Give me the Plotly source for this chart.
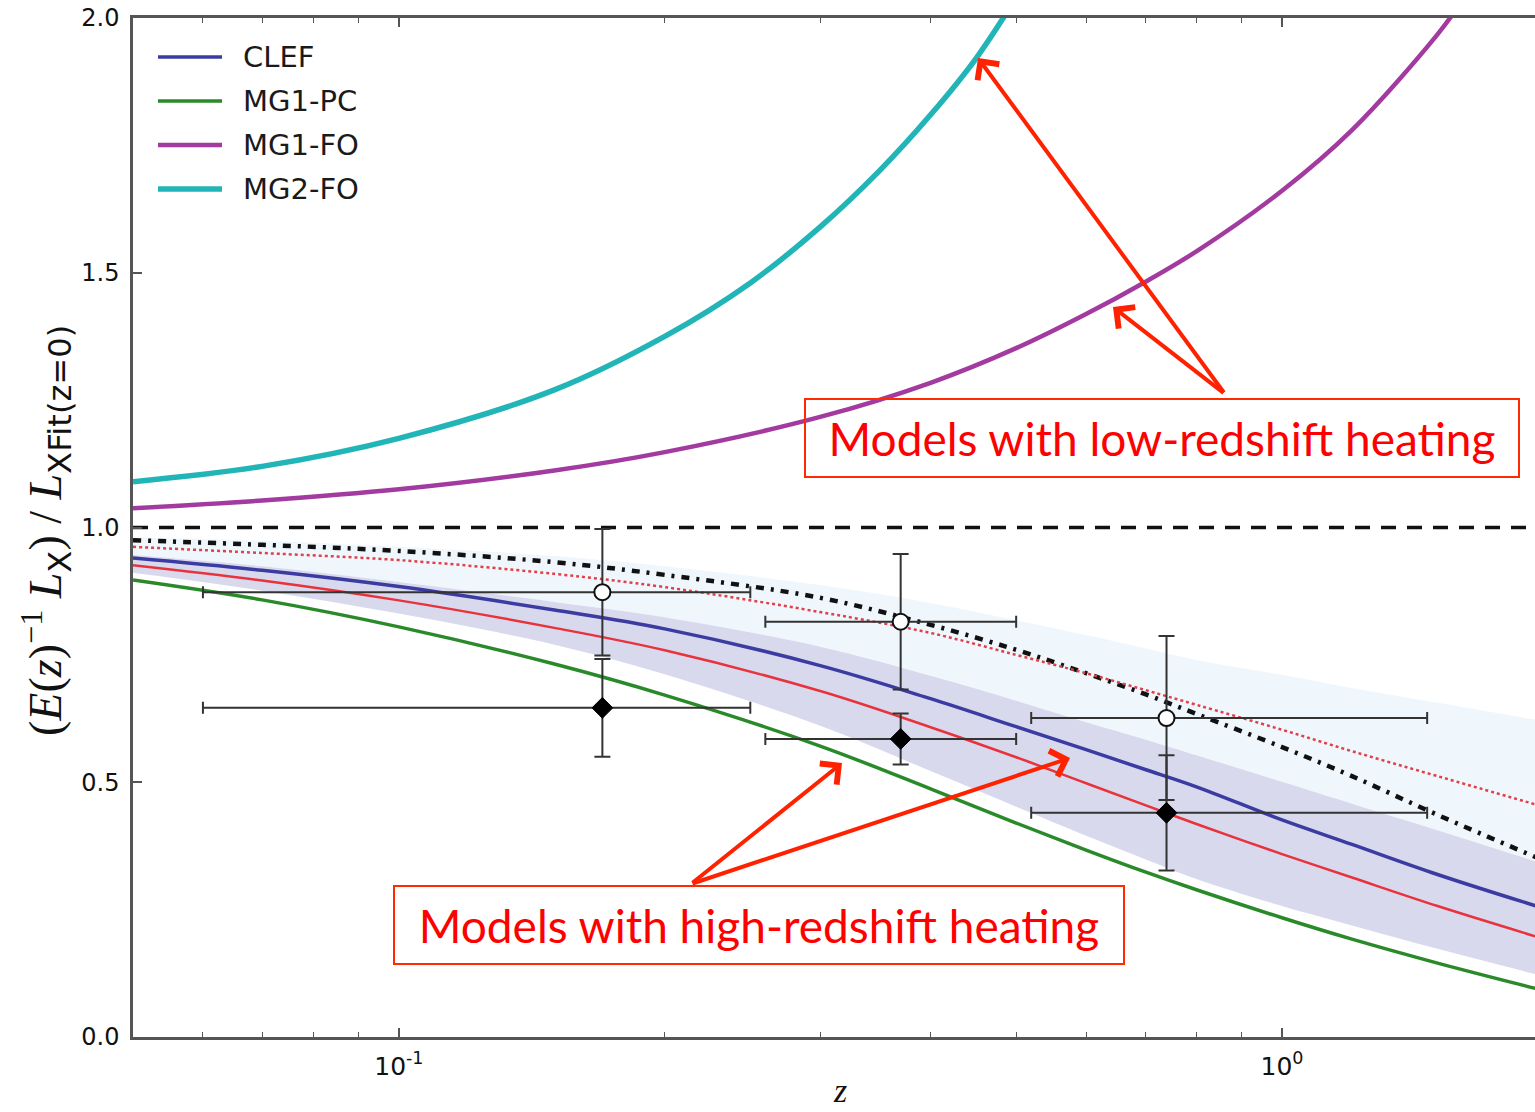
import math
import plotly.graph_objects as go

# ---------------- data ----------------
z_grid = [0.05, 0.07, 0.1, 0.15, 0.2, 0.3, 0.4, 0.5, 0.6, 0.7, 0.8, 1.0, 1.2, 1.5, 1.95]
clef = [0.940, 0.916, 0.884, 0.838, 0.801, 0.729, 0.664, 0.609, 0.564, 0.525, 0.491, 0.426, 0.378, 0.319, 0.256]
red_model = [0.926, 0.896, 0.857, 0.803, 0.759, 0.679, 0.608, 0.549, 0.498, 0.455, 0.418, 0.359, 0.313, 0.257, 0.196]
mg1_pc = [0.897, 0.858, 0.805, 0.732, 0.671, 0.571, 0.487, 0.420, 0.367, 0.324, 0.289, 0.234, 0.192, 0.145, 0.094]
band_hi = [0.946, 0.924, 0.893, 0.854, 0.824, 0.766, 0.709, 0.660, 0.618, 0.584, 0.553, 0.501, 0.458, 0.406, 0.343]
band_lo = [0.911, 0.876, 0.831, 0.770, 0.712, 0.611, 0.522, 0.452, 0.395, 0.349, 0.310, 0.257, 0.219, 0.173, 0.122]
pale_hi = [0.981, 0.974, 0.962, 0.944, 0.924, 0.887, 0.852, 0.818, 0.789, 0.763, 0.740, 0.711, 0.685, 0.656, 0.622]
red_dotted = [0.962, 0.950, 0.936, 0.909, 0.883, 0.834, 0.793, 0.750, 0.714, 0.681, 0.652, 0.603, 0.561, 0.512, 0.455]
dashdot = [0.975, 0.966, 0.954, 0.932, 0.907, 0.862, 0.809, 0.760, 0.714, 0.673, 0.634, 0.569, 0.512, 0.436, 0.351]

z_mg2 = [0.05, 0.07, 0.1, 0.15, 0.2, 0.25, 0.3, 0.35, 0.4, 0.45, 0.5]
mg2_fo = [1.09, 1.12, 1.175, 1.27, 1.375, 1.48, 1.59, 1.70, 1.81, 1.92, 2.04]

z_mg1 = [0.05, 0.07, 0.1, 0.15, 0.2, 0.3, 0.4, 0.5, 0.6, 0.7, 0.8, 1.0, 1.2, 1.5, 1.6]
mg1_fo = [1.038, 1.053, 1.075, 1.112, 1.148, 1.217, 1.284, 1.352, 1.419, 1.482, 1.542, 1.661, 1.780, 1.968, 2.034]

ref_x = [0.05, 1.95]
ref_y = [1.0, 1.0]

z_pts = [0.17, 0.37, 0.74]
z_lo = [0.06, 0.26, 0.52]
z_hi = [0.25, 0.50, 1.46]
open_y = [0.873, 0.815, 0.626]
open_err = [0.124, 0.133, 0.161]
diam_y = [0.646, 0.585, 0.440]
diam_err = [0.096, 0.050, 0.113]

legend_names = ["CLEF", "MG1-PC", "MG1-FO", "MG2-FO"]
legend_colors = ["#3b3ca2", "#2a8a2a", "#a23aa0", "#22b5b8"]
legend_widths = [3.5, 3.5, 4.5, 5.5]

y_ticks = [0.0, 0.5, 1.0, 1.5, 2.0]
x_ticks = [0.1, 1.0]
x_ticktext = ["10<sup>-1</sup>", "10<sup>0</sup>"]
x_minor = [0.06, 0.07, 0.08, 0.09, 0.2, 0.3, 0.4, 0.5, 0.6, 0.7, 0.8, 0.9]

# ---------------- layout geometry ----------------
W, H = 1535, 1112
L, T, B = 133, 18, 1037


def px(xp):
    return (xp - L) / (W - L)


def py(yp):
    return (B - yp) / (B - T)


fig = go.Figure()

# pale band
fig.add_trace(go.Scatter(x=z_grid, y=band_hi, mode="lines", line=dict(width=0, shape="spline"),
                         showlegend=False, hoverinfo="skip"))
fig.add_trace(go.Scatter(x=z_grid, y=pale_hi, mode="lines", line=dict(width=0, shape="spline"),
                         fill="tonexty", fillcolor="rgb(240,247,252)", showlegend=False, hoverinfo="skip"))
# lavender band
fig.add_trace(go.Scatter(x=z_grid, y=band_lo, mode="lines", line=dict(width=0, shape="spline"),
                         showlegend=False, hoverinfo="skip"))
fig.add_trace(go.Scatter(x=z_grid, y=band_hi, mode="lines", line=dict(width=0, shape="spline"),
                         fill="tonexty", fillcolor="rgb(217,217,237)", showlegend=False, hoverinfo="skip"))

# reference line
fig.add_trace(go.Scatter(x=ref_x, y=ref_y, mode="lines",
                         line=dict(color="#111111", width=3.5, dash="15px,11px"), showlegend=False))
# dash-dot
fig.add_trace(go.Scatter(x=z_grid, y=dashdot, mode="lines",
                         line=dict(color="#111111", width=4.5, dash="8px,7px,3px,7px", shape="spline"),
                         showlegend=False))
# red dotted
fig.add_trace(go.Scatter(x=z_grid, y=red_dotted, mode="lines",
                         line=dict(color="#e0404a", width=2.5, dash="3px,3px", shape="spline"),
                         showlegend=False))
# green
fig.add_trace(go.Scatter(x=z_grid, y=mg1_pc, mode="lines", name=legend_names[1],
                         line=dict(color=legend_colors[1], width=legend_widths[1], shape="spline"),
                         showlegend=False))
# red solid
fig.add_trace(go.Scatter(x=z_grid, y=red_model, mode="lines",
                         line=dict(color="#e8323c", width=2.5, shape="spline"), showlegend=False))
# blue
fig.add_trace(go.Scatter(x=z_grid, y=clef, mode="lines", name=legend_names[0],
                         line=dict(color=legend_colors[0], width=legend_widths[0], shape="spline"),
                         showlegend=False))
# magenta
fig.add_trace(go.Scatter(x=z_mg1, y=mg1_fo, mode="lines", name=legend_names[2],
                         line=dict(color=legend_colors[2], width=legend_widths[2], shape="spline"),
                         showlegend=False))
# cyan
fig.add_trace(go.Scatter(x=z_mg2, y=mg2_fo, mode="lines", name=legend_names[3],
                         line=dict(color=legend_colors[3], width=legend_widths[3], shape="spline"),
                         showlegend=False))

ex_plus = [h - z for h, z in zip(z_hi, z_pts)]
ex_minus = [z - l for z, l in zip(z_pts, z_lo)]
ebar_col = "#333333"

fig.add_trace(go.Scatter(
    x=z_pts, y=diam_y, mode="markers",
    marker=dict(symbol="diamond", size=16, color="#000000", line=dict(color="#000000", width=1)),
    error_y=dict(type="data", array=diam_err, color=ebar_col, thickness=2, width=8),
    error_x=dict(type="data", array=ex_plus, arrayminus=ex_minus, color=ebar_col, thickness=2, width=6),
    showlegend=False))
fig.add_trace(go.Scatter(
    x=z_pts, y=open_y, mode="markers",
    marker=dict(symbol="circle", size=16, color="#ffffff", line=dict(color="#111111", width=2)),
    error_y=dict(type="data", array=open_err, color=ebar_col, thickness=2, width=8),
    error_x=dict(type="data", array=ex_plus, arrayminus=ex_minus, color=ebar_col, thickness=2, width=6),
    showlegend=False))

# ---------------- custom legend ----------------
shapes = []
annotations = []
leg_y = [57, 101, 145, 189]
for name, col, wdt, yy in zip(legend_names, legend_colors, legend_widths, leg_y):
    shapes.append(dict(type="line", xref="paper", yref="paper", x0=px(158), x1=px(222),
                       y0=py(yy), y1=py(yy), line=dict(color=col, width=wdt)))
    annotations.append(dict(xref="paper", yref="paper", x=px(241), y=py(yy), text=name,
                            showarrow=False, xanchor="left", yanchor="middle",
                            font=dict(family="DejaVu Sans", size=29, color="#1a1a1a")))

# axis titles
annotations.append(dict(
    xref="paper", yref="paper", x=px(46), y=py(531), textangle=-90, showarrow=False,
    xanchor="center", yanchor="middle",
    text=("(<i>E</i>(<i>z</i>)<sup>−1</sup> <i>L</i><sub><span style='font-family:DejaVu Sans'>X</span></sub>)"
          " / <i>L</i><sub><span style='font-family:DejaVu Sans'>XFit(z=0)</span></sub>"),
    font=dict(family="Liberation Serif", size=46, color="#111111")))
annotations.append(dict(xref="paper", yref="paper", x=px(840), y=py(1090), text="<i>z</i>",
                        showarrow=False, xanchor="center", yanchor="middle",
                        font=dict(family="Liberation Serif", size=34, color="#111111")))

# red text boxes
annotations.append(dict(xref="paper", yref="paper", x=px(1162), y=py(438),
                        text="Models with low-redshift heating", showarrow=False,
                        xanchor="center", yanchor="middle", width=712, height=76,
                        bordercolor="#ff2a00", borderwidth=2, borderpad=0, bgcolor="rgba(0,0,0,0)",
                        font=dict(family="Lato", size=46, color="#ff0000")))
annotations.append(dict(xref="paper", yref="paper", x=px(759), y=py(925),
                        text="Models with high-redshift heating", showarrow=False,
                        xanchor="center", yanchor="middle", width=728, height=76,
                        bordercolor="#ff2a00", borderwidth=2, borderpad=0, bgcolor="rgba(255,255,255,1)",
                        font=dict(family="Lato", size=46, color="#ff0000")))

# arrows (head, tail) in pixels
arrows = [((978, 58), (1225, 394)), ((1113, 307), (1225, 394)),
          ((842, 763), (691, 884)), ((1070, 758), (691, 884))]
for (hx, hy), (tx, ty) in arrows:
    annotations.append(dict(xref="paper", yref="paper", x=px(hx), y=py(hy), ax=tx - hx, ay=ty - hy,
                            text="", showarrow=True, arrowhead=4, arrowsize=1.3, arrowwidth=4,
                            arrowcolor="#ff2200", standoff=0, startstandoff=0))

fig.update_layout(
    width=W, height=H,
    margin=dict(l=L, r=0, t=T, b=H - B, pad=0),
    paper_bgcolor="white", plot_bgcolor="white",
    shapes=shapes, annotations=annotations,
    showlegend=False,
    xaxis=dict(type="log", range=[math.log10(0.05), math.log10(1.934)],
               tickvals=x_ticks, ticktext=x_ticktext, ticks="inside", ticklen=9, tickwidth=1.5,
               tickcolor="#555555", showline=True, linecolor="#555555", linewidth=2.5, mirror="ticks",
               showgrid=False, zeroline=False, ticklabelstandoff=5,
               tickfont=dict(family="DejaVu Sans", size=25, color="#111111"),
               minor=dict(tickvals=x_minor, ticks="inside", ticklen=5, tickwidth=1, tickcolor="#555555",
                          showgrid=False)),
    yaxis=dict(range=[0, 2.0], tickvals=y_ticks, tickformat=".1f", ticks="inside", ticklen=9,
               tickwidth=1.5, tickcolor="#555555", showline=True, linecolor="#555555", linewidth=2.5,
               mirror=False, showgrid=False, zeroline=False, ticklabelstandoff=6,
               tickfont=dict(family="DejaVu Sans", size=24, color="#111111")),
)

fig.write_html("out.html")
